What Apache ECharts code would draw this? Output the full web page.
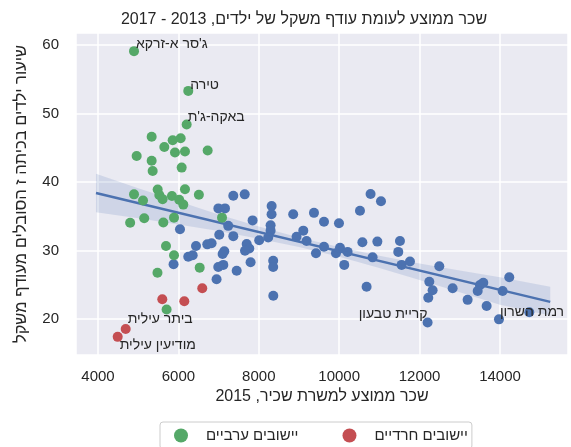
<!DOCTYPE html>
<html>
<head>
<meta charset="utf-8">
<script src="https://cdn.jsdelivr.net/npm/echarts@6/dist/echarts.min.js"></script>
<style>
  html, body { margin: 0; padding: 0; background: #fff; }
  #chart { width: 571px; height: 447px; }
</style>
</head>
<body>
<div id="chart" dir="rtl"></div>
<script>
// Average salary (2015) vs. share of overweight 7th graders (2013-2017), by town
const jewishTowns = [
  [7366,38.0],[7650,38.2],[6995,36.15],[7159,36.15],[8320,36.5],[8318,35.3],[8856,35.3],
  [6040,33.1],[7239,33.6],[7846,34.4],[8294,33.7],[8294,32.9],[8234,31.9],[8010,31.5],[8940,32.0],
  [7017,32.3],[7366,32.1],[6438,30.66],[6719,30.9],[6826,31.05],[6246,29.1],[6356,29.3],
  [7142,29.9],[7100,29.5],[7699,30.95],[7764,30.3],[7657,29.96],
  [5880,28.0],[6992,27.6],[7117,27.9],[7450,27.05],[7796,28.3],[8358,28.5],[8358,27.6],[6950,25.8],[8361,23.4],
  [9107,32.9],[9189,31.4],[9373,35.5],[9622,34.2],[9995,33.97],[10517,35.8],[10781,38.25],[11040,37.2],
  [9423,29.6],[9622,30.55],[9920,29.6],[10020,30.4],[10209,29.8],[10126,27.9],[10577,31.2],[10950,31.3],[10831,29.0],[10682,24.7],
  [11512,31.4],[11470,29.8],[11553,27.9],[11761,28.4],[12490,27.7],[12242,25.45],[12324,24.2],[12216,23.1],[12199,19.5],
  [12822,24.5],[13195,22.8],[13502,24.96],[13585,25.3],[13445,24.1],[13668,21.9],[14066,24.1],[14231,26.1],[13975,19.95],[14729,21.0]
];
const haredTowns = [
  [4490,17.4],[4689,18.55],[5600,22.9],[6147,22.6],[6594,24.5]
];
const arabTowns = [
  [4896,59.1],[6246,53.3],[6206,48.4],[5335,46.6],[5858,46.1],[6057,46.4],[5650,45.1],
  [5915,44.3],[6164,44.45],[6728,44.6],[4962,43.8],[5335,43.1],[5360,41.6],[6082,42.1],
  [4896,38.2],[5120,37.3],[5485,38.9],[5525,38.1],[5607,37.5],[5840,37.96],[6020,37.4],
  [6122,36.7],[6164,38.95],[6510,38.15],[4800,34.05],[5150,34.7],[5625,34.1],[5891,34.8],
  [7085,34.8],[5692,30.66],[5891,29.3],[6530,27.5],[5480,26.75],[5707,21.4]
];

// Named towns (index into the series arrays)
const jewishNames = { 62: 'קריית טבעון', 71: 'רמת השרון' };
const haredNames = { 0: 'מודיעין עילית', 1: 'ביתר עילית' };
const arabNames = { 0: "ג'סר א-זרקא", 1: 'טירה', 2: "באקה-ג'ת" };

// Fitted trend line and its confidence band
const regX = [3950, 15250];
const regY = [38.4, 22.5];
const ciX    = [3950, 5000, 6000, 7000, 8000, 9000, 10000, 11000, 12000, 13000, 14000, 15250];
const ciLow  = [35.6, 34.7, 33.8, 32.85, 31.7, 30.5, 29.1, 27.45, 25.7, 23.9, 22.1, 20.5];
const ciHigh = [41.2, 39.1, 37.2, 35.25, 33.5, 31.9, 30.5, 29.25, 28.1, 27.1, 26.1, 24.7];

const seriesNames = ['יישובים יהודיים', 'יישובים חרדיים', 'יישובים ערביים'];
const legendItems = ['יישובים ערביים', 'יישובים חרדיים'];

const titleText = 'שכר ממוצע לעומת עודף משקל של ילדים, 2013 - 2017';
const xName = 'שכר ממוצע למשרת שכיר, 2015';
const yName = 'שיעור ילדים בכיתה ז הסובלים מעודף משקל';

const FONT = '"Liberation Sans", "DejaVu Sans", Arial, sans-serif';
const TEXT = '#262626';
const BLUE = '#4C72B0', RED = '#C44E52', GREEN = '#55A868';

// label placement next to each named town: offset of text from the dot
const labelPlace = {
  "ג'סר א-זרקא": { dx: 2, dy: -7, align: 'left' },
  'טירה': { dx: 2, dy: -6, align: 'left' },
  "באקה-ג'ת": { dx: 1, dy: -7, align: 'left' },
  'ביתר עילית': { dx: 2, dy: -9.5, align: 'left' },
  'מודיעין עילית': { dx: 2, dy: 8, align: 'left' },
  'קריית טבעון': { dx: 0, dy: -8, align: 'right' },
  'רמת השרון': { dx: 1, dy: -7, align: 'left' }
};

function withLabels(points, names) {
  return points.map(function (p, i) {
    const n = names[i];
    if (!n) return p;
    const pl = labelPlace[n];
    return {
      value: p,
      label: {
        show: true,
        formatter: n,
        position: [5 + pl.dx, 5 + pl.dy],
        align: pl.align,
        verticalAlign: 'middle',
        fontSize: 14,
        fontFamily: FONT,
        color: TEXT
      }
    };
  });
}

const plain = function (v) { return String(v); };

const chart = echarts.init(document.getElementById('chart'), null, { renderer: 'canvas' });

chart.setOption({
  animation: false,
  backgroundColor: '#fff',
  textStyle: { fontFamily: FONT },
  title: {
    text: titleText,
    left: 299,
    top: 7,
    textAlign: 'center',
    textStyle: { fontSize: 16, fontWeight: 'normal', color: TEXT, fontFamily: FONT }
  },
  legend: {
    data: legendItems,
    left: 160,
    top: 422,
    icon: 'circle',
    itemWidth: 14,
    itemHeight: 14,
    itemGap: 44,
    padding: [6, 4, 6, 14],
    borderColor: '#cccccc',
    borderWidth: 1,
    borderRadius: 3,
    backgroundColor: '#ffffff',
    textStyle: { fontSize: 15, color: TEXT, fontFamily: FONT, padding: [0, 0, 0, 13] }
  },
  grid: {
    left: 76, right: 3, top: 33, bottom: 92,
    show: true,
    backgroundColor: '#EAEAF2',
    borderWidth: 0
  },
  xAxis: {
    type: 'value',
    min: 3453, max: 15692,
    splitNumber: 6, minInterval: 2000, maxInterval: 2000,
    axisLine: { show: false },
    axisTick: { show: false },
    splitLine: { show: true, lineStyle: { color: '#ffffff', width: 1.5 } },
    axisLabel: {
      fontSize: 15, color: TEXT, margin: 14, formatter: plain,
      showMinLabel: false, showMaxLabel: false, fontFamily: FONT
    },
    name: xName,
    nameLocation: 'middle',
    nameGap: 33,
    nameTextStyle: { fontSize: 16, color: TEXT, fontFamily: FONT }
  },
  yAxis: {
    type: 'value',
    min: 14.75, max: 61.75,
    splitNumber: 5, minInterval: 10, maxInterval: 10,
    axisLine: { show: false },
    axisTick: { show: false },
    splitLine: { show: true, lineStyle: { color: '#ffffff', width: 1.5 } },
    axisLabel: {
      fontSize: 15, color: TEXT, margin: 17, formatter: plain,
      showMinLabel: false, showMaxLabel: false, fontFamily: FONT
    },
    name: yName,
    nameLocation: 'middle',
    nameRotate: 90,
    nameGap: 46,
    nameTextStyle: { fontSize: 16.5, color: TEXT, fontFamily: FONT }
  },
  series: [
    {
      name: seriesNames[0],
      type: 'scatter',
      z: 2,
      symbolSize: 10,
      itemStyle: { color: BLUE, opacity: 1 },
      data: withLabels(jewishTowns, jewishNames)
    },
    {
      name: 'band',
      type: 'custom',
      z: 2,
      silent: true,
      data: ciX.map(function (x, i) { return [x, ciLow[i], ciHigh[i]]; }),
      encode: { x: 0, y: [1, 2] },
      renderItem: function (params, api) {
        if (params.dataIndex !== 0) return null;
        const pts = [];
        for (let i = 0; i < ciX.length; i++) pts.push(api.coord([ciX[i], ciHigh[i]]));
        for (let i = ciX.length - 1; i >= 0; i--) pts.push(api.coord([ciX[i], ciLow[i]]));
        return {
          type: 'polygon',
          shape: { points: pts },
          style: { fill: 'rgba(76,114,176,0.17)', stroke: null }
        };
      }
    },
    {
      name: 'trend',
      type: 'line',
      z: 3,
      showSymbol: false,
      silent: true,
      data: regX.map(function (x, i) { return [x, regY[i]]; }),
      lineStyle: { color: BLUE, width: 2.5 }
    },
    {
      name: seriesNames[2],
      type: 'scatter',
      z: 4,
      symbolSize: 10,
      itemStyle: { color: GREEN, opacity: 1 },
      data: withLabels(arabTowns, arabNames)
    },
    {
      name: seriesNames[1],
      type: 'scatter',
      z: 4,
      symbolSize: 10,
      itemStyle: { color: RED, opacity: 1 },
      data: withLabels(haredTowns, haredNames)
    }
  ]
});
</script>
</body>
</html>
